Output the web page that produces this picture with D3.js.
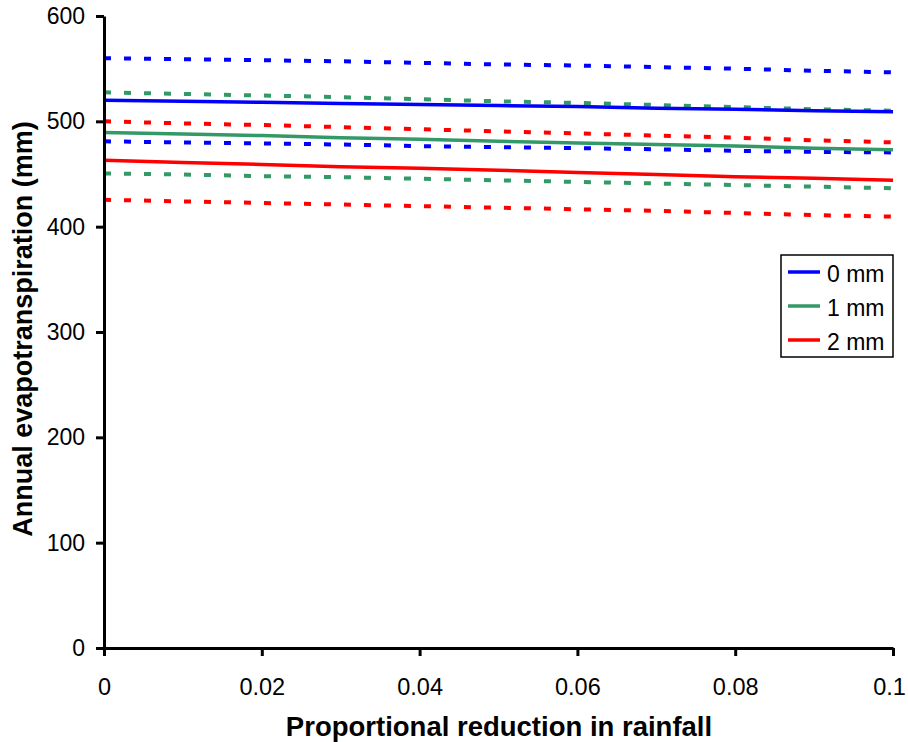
<!DOCTYPE html>
<html>
<head>
<meta charset="utf-8">
<script src="https://cdn.jsdelivr.net/npm/d3@7"></script>
<style>
  html, body { margin: 0; padding: 0; background: #fff; }
  svg { display: block; font-family: "Liberation Sans", Arial, sans-serif; }
</style>
</head>
<body>
<svg id="chart" width="908" height="742"></svg>
<script>
// ---- data ----
const xValues = [0, 0.01, 0.02, 0.03, 0.04, 0.05, 0.06, 0.07, 0.08, 0.09, 0.1];
const seriesNames = ["0 mm", "1 mm", "2 mm"];
const mean0 = [520, 519, 518, 517, 516, 515, 514, 512.5, 511.5, 510, 509];
const mean1 = [489.5, 488, 486.5, 484.5, 483, 481, 479.5, 478, 476.5, 474.5, 473];
const mean2 = [463, 461, 459, 457, 455.5, 453.5, 451.5, 449.5, 447.5, 446, 444];
const upper0 = [560, 559, 558, 557, 555.5, 554, 553, 551.5, 550, 548, 546.5];
const lower0 = [481, 480, 479, 478, 476.5, 475.5, 474.5, 473.5, 472, 471, 470.5];
const upper1 = [527.5, 526, 524.5, 523, 521, 519, 517.5, 515.5, 513.5, 511.5, 510];
const lower1 = [450.5, 449.5, 448, 447, 445.5, 444, 442.5, 441, 439.5, 438, 436.5];
const upper2 = [500, 498, 496.5, 494.5, 492.5, 490.5, 488.5, 486.5, 484.5, 482, 480];
const lower2 = [425.5, 424, 422.5, 421, 419.5, 418, 416.5, 415, 413, 411, 409.5];
const xTicks = [0, 0.02, 0.04, 0.06, 0.08, 0.1];
const xTickLabels = ["0", "0.02", "0.04", "0.06", "0.08", "0.1"];
const yTicks = [0, 100, 200, 300, 400, 500, 600];
const colors = ["#0000FF", "#339966", "#FF0000"];

const means = [mean0, mean1, mean2];
const uppers = [upper0, upper1, upper2];
const lowers = [lower0, lower1, lower2];

// ---- layout ----
const svg = d3.select("#chart");
const x = d3.scaleLinear().domain([0, 0.1]).range([104, 893]);
const y = d3.scaleLinear().domain([0, 600]).range([648, 16]);

const line = d3.line().x((d, i) => x(xValues[i])).y(d => y(d));

// dotted bounds
[0, 1, 2].forEach(k => {
  [uppers[k], lowers[k]].forEach(arr => {
    svg.append("path")
      .attr("d", line(arr))
      .attr("fill", "none")
      .attr("stroke", colors[k])
      .attr("stroke-width", 4)
      .attr("stroke-dasharray", "7,13");
  });
});

// solid means
[0, 1, 2].forEach(k => {
  svg.append("path")
    .attr("d", line(means[k]))
    .attr("fill", "none")
    .attr("stroke", colors[k])
    .attr("stroke-width", 3.5);
});

// axes
const xAxis = d3.axisBottom(x).tickValues(xTicks)
  .tickFormat((d, i) => xTickLabels[i]).tickSizeInner(8).tickSizeOuter(0).tickPadding(22);
const gx = svg.append("g").attr("transform", `translate(0,${y(0)})`).call(xAxis);
gx.select(".domain").attr("stroke", "#000").attr("stroke-width", 3);
gx.selectAll(".tick line").attr("stroke", "#000").attr("stroke-width", 3);
gx.selectAll(".tick text").attr("font-size", 23.5).attr("font-family", "Liberation Sans, Arial, sans-serif").attr("fill", "#000");
// keep the last label inside the window
gx.selectAll(".tick text").filter((d, i, n) => i === n.length - 1).attr("dx", -4);

const yAxis = d3.axisLeft(y).tickValues(yTicks).tickSizeInner(8).tickSizeOuter(0).tickPadding(11);
const gy = svg.append("g").attr("transform", `translate(${x(0)},0)`).call(yAxis);
gy.select(".domain").attr("stroke", "#000").attr("stroke-width", 3);
gy.selectAll(".tick line").attr("stroke", "#000").attr("stroke-width", 3);
gy.selectAll(".tick text").attr("font-size", 23).attr("font-family", "Liberation Sans, Arial, sans-serif").attr("fill", "#000");

// axis titles
svg.append("text")
  .attr("x", 499).attr("y", 736)
  .attr("text-anchor", "middle")
  .attr("font-size", 27.5).attr("font-weight", "bold")
  .text("Proportional reduction in rainfall");

svg.append("text")
  .attr("transform", "translate(32,329) rotate(-90)")
  .attr("text-anchor", "middle")
  .attr("font-size", 27).attr("font-weight", "bold")
  .text("Annual evapotranspiration (mm)");

// legend
const lg = svg.append("g");
lg.append("rect").attr("x", 781).attr("y", 255).attr("width", 112).attr("height", 102)
  .attr("fill", "#fff").attr("stroke", "#000").attr("stroke-width", 1.5);
seriesNames.forEach((name, i) => {
  const cy = 272 + i * 34;
  lg.append("line").attr("x1", 788).attr("x2", 820).attr("y1", cy).attr("y2", cy)
    .attr("stroke", colors[i]).attr("stroke-width", 3.5);
  lg.append("text").attr("x", 827).attr("y", cy + 9.5)
    .attr("font-size", 23).text(name);
});
</script>
</body>
</html>
